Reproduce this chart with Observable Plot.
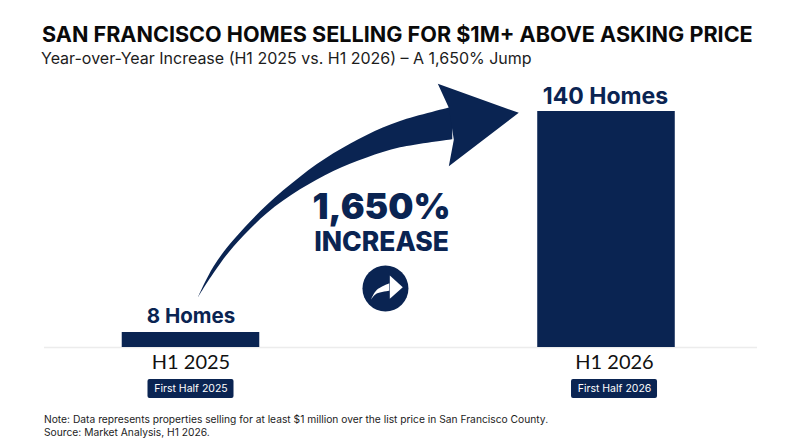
<!DOCTYPE html>
<html>
<head>
<meta charset="utf-8">
<script src="https://cdn.jsdelivr.net/npm/d3@7"></script>
<script src="https://cdn.jsdelivr.net/npm/@observablehq/plot@0.6"></script>
<style>
html,body{margin:0;padding:0;background:#fff;width:800px;height:447px;overflow:hidden}
body{font-family:Inter,"Noto Sans",sans-serif;position:relative}
#title{position:absolute;left:42px;top:20px;font-size:21.6px;line-height:28px;font-weight:700;color:#0a0a0a;white-space:nowrap}
#subtitle{position:absolute;left:41px;top:48px;font-size:16px;line-height:20px;font-weight:400;color:#1c1c1c;white-space:nowrap}
#chart{position:absolute;left:0;top:75px}
#note{position:absolute;left:44px;top:413px;font-size:10.25px;line-height:12.5px;color:#1c1c1c;white-space:nowrap}
</style>
</head>
<body>
<div id="title">SAN FRANCISCO HOMES SELLING FOR $1M+ ABOVE ASKING PRICE</div>
<div id="subtitle">Year-over-Year Increase (H1 2025 vs. H1 2026) – A 1,650% Jump</div>
<div id="chart"></div>
<div id="note">Note: Data represents properties selling for at least $1 million over the list price in San Francisco County.<br>Source: Market Analysis, H1 2026.</div>
<script>
const navy = "#0a2452";

const periods = ["H1 2025", "H1 2026"];
const homes = [8, 140];
const homeLabels = ["8 Homes", "140 Homes"];
const badges = ["First Half 2025", "First Half 2026"];
const slots = [0, 1];
const labelSlots = [0, 1.0193];

const arrowX = [0.0173,0.0549,0.1030,0.1834,0.2635,0.3437,0.4241,0.5042,0.6300];
const arrowTop = [28.5,47.0,62.95,83.9,100.8,114.7,125.7,134.0,142.5];
const arrowBottom = [28.5,43.1,58.95,78.9,93.2,104.2,112.3,118.3,123.2];
const arrowHeadX = [0.6205,0.5940,0.7889,0.6205,0.6325];
const arrowHeadY = [142.2,156.5,139.2,107.3,123.1];
const iconX = [0.4344,0.4481,0.4785];
const iconTop = [27.5,33.1,37.1];
const iconBottom = [27.5,31.0,32.7];
const iconHeadX = [0.4785,0.5097,0.4785];
const iconHeadY = [42.0,35.1,28.1];

const bars = periods.map((p, i) => ({period: p, slot: slots[i], homes: homes[i], label: homeLabels[i]}));
const badgeRows = badges.map((b, i) => ({badge: b, slot: labelSlots[i]}));
const zip = (xs, ys) => xs.map((x, i) => ({x, y: ys[i]}));
const band = (xs, tops, bottoms) => xs.map((x, i) => ({x, top: tops[i], bottom: bottoms[i]}));

const barHalf = 0.1655;
const badgeHalf = 0.1035;

const chart = Plot.plot({
  width: 800,
  height: 330,
  marginLeft: 44,
  marginRight: 43,
  marginTop: 36,
  marginBottom: 58,
  style: {background: "transparent", overflow: "visible", fontFamily: "Inter, 'Noto Sans', sans-serif"},
  x: {domain: [0, 1], range: [190.5, 606], axis: null},
  y: {domain: [0, 140], range: [270.4, 36], axis: null},
  marks: [
    Plot.ruleY([0], {stroke: "#ececec", strokeWidth: 1.5, dy: 1.6}),
    Plot.rectY(bars, {x1: d => d.slot - barHalf, x2: d => d.slot + barHalf, y1: 0, y2: "homes", insetBottom: -1.6, fill: navy}),
    Plot.text(bars.filter(d => d.homes < 50), {x: "slot", y: "homes", text: "label", dy: -16, fontSize: 20.5, fontWeight: 700, fill: navy}),
    Plot.text(bars.filter(d => d.homes >= 50), {x: "slot", y: "homes", text: "label", dy: -15, dx: -1, fontSize: 23, fontWeight: 700, fill: navy}),
    Plot.axisX({
      ticks: labelSlots,
      tickFormat: d => periods[labelSlots.indexOf(d)],
      tickSize: 0,
      tickPadding: 7,
      label: null,
      fontSize: 20,
      fontFamily: "Lato",
      fill: "#111"
    }),
    Plot.rect(badgeRows, {x1: d => d.slot - badgeHalf, x2: d => d.slot + badgeHalf, y1: -20.07, y2: -31.4, fill: navy, rx: 2}),
    Plot.text(badgeRows, {x: "slot", y: -25.7, text: "badge", fill: "#fff", fontSize: 10.5}),
    Plot.areaY(band(arrowX, arrowTop, arrowBottom), {x: "x", y1: "bottom", y2: "top", fill: navy, curve: "catmull-rom"}),
    Plot.line(zip(arrowHeadX, arrowHeadY), {x: "x", y: "y", fill: navy, stroke: "none", curve: "linear"}),
    Plot.text(["1,650%"], {x: 0.4585, y: 82.7, fontSize: 35.5, fontWeight: 900, fill: navy}),
    Plot.text(["INCREASE"], {x: 0.4585, y: 61.5, fontSize: 26.5, fontWeight: 800, fill: navy}),
    Plot.dot([0], {x: 0.468, y: 34.3, r: 23, fill: navy, stroke: "none"}),
    Plot.areaY(band(iconX, iconTop, iconBottom), {x: "x", y1: "bottom", y2: "top", fill: "#fff", curve: "catmull-rom"}),
    Plot.line(zip(iconHeadX, iconHeadY), {x: "x", y: "y", fill: "#fff", stroke: "none", curve: "linear"})
  ]
});
document.getElementById("chart").appendChild(chart);
</script>
</body>
</html>
